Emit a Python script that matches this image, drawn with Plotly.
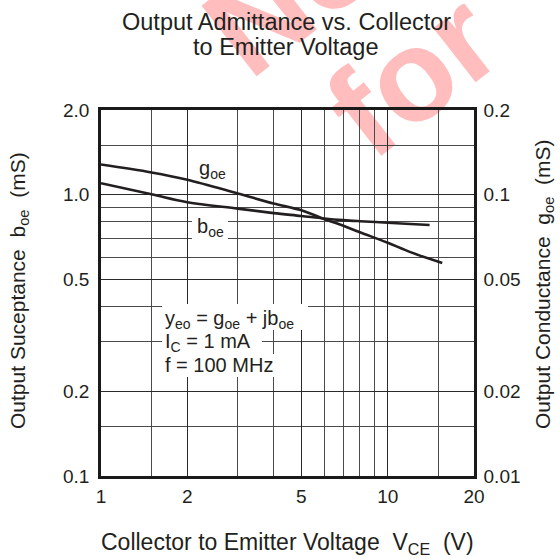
import numpy as np
import plotly.graph_objects as go

# ---- data ----
vce = [1, 1.5, 2, 3, 4, 5, 6, 7, 8, 10, 12, 14]
boe = [1.098, 1.003, 0.940, 0.892, 0.860, 0.840, 0.823, 0.812, 0.805, 0.795, 0.787, 0.780]   # mS, left axis
vce_g = [1, 1.5, 2, 3, 4, 5, 6, 7, 8, 10, 12, 15.5]
goe = [0.128, 0.120, 0.113, 0.101, 0.093, 0.088, 0.082, 0.0775, 0.0735, 0.0675, 0.0625, 0.0572]  # mS, right axis

x_ticks = [1, 2, 5, 10, 20]
x_ticktext = ["1", "2", "5", "10", "20"]
x_minor = [1.5, 3, 4, 6, 7, 8, 9, 15]
yl_ticks = [0.1, 0.2, 0.5, 1.0, 2.0]
yl_ticktext = ["0.1", "0.2", "0.5", "1.0", "2.0"]
yl_minor = [0.15, 0.3, 0.4, 0.6, 0.7, 0.8, 0.9, 1.5]
yr_ticks = [0.01, 0.02, 0.05, 0.1, 0.2]
yr_ticktext = ["0.01", "0.02", "0.05", "0.1", "0.2"]

FONT = "Liberation Sans, Arial, Helvetica, sans-serif"
TXT = "#231f20"

# plot-area geometry in pixels (for converting annotation positions)
L, R, T, B = 101, 474, 110, 476
W, H = 560, 559

def px(xp):
    return (xp - L) / (R - L)

def py(yp):
    return (B - yp) / (B - T)

fig = go.Figure()
fig.add_trace(go.Scatter(x=vce, y=boe, mode="lines", line=dict(color="#231f20", width=2.6, shape="spline"),
                         name="boe", yaxis="y"))
fig.add_trace(go.Scatter(x=vce_g, y=goe, mode="lines", line=dict(color="#231f20", width=2.6, shape="spline"),
                         name="goe", yaxis="y2"))

fig.update_layout(
    width=W, height=H,
    margin=dict(l=L, r=W - R, t=T, b=H - B),
    paper_bgcolor="white", plot_bgcolor="rgba(0,0,0,0)",
    showlegend=False,
    font=dict(family=FONT, color=TXT, size=19),
    xaxis=dict(type="log", range=[0, np.log10(20)], tickvals=x_ticks, ticktext=x_ticktext,
               showgrid=True, gridcolor="#2a2a2a", gridwidth=1,
               minor=dict(tickvals=x_minor, showgrid=True, gridcolor="#4a4a4a", gridwidth=1, ticks=""),
               showline=True, linecolor="#1a1a1a", linewidth=2.5, mirror=True, ticks="",
               tickfont=dict(size=19), ticklabelstandoff=1, zeroline=False),
    yaxis=dict(type="log", range=[-1, np.log10(2)], tickvals=yl_ticks, ticktext=yl_ticktext,
               showgrid=True, gridcolor="#2a2a2a", gridwidth=1,
               minor=dict(tickvals=yl_minor, showgrid=True, gridcolor="#4a4a4a", gridwidth=1, ticks=""),
               showline=True, linecolor="#1a1a1a", linewidth=2.5, mirror=True, ticks="",
               tickfont=dict(size=19), ticklabelstandoff=5, zeroline=False),
    yaxis2=dict(type="log", range=[-2, np.log10(0.2)], tickvals=yr_ticks, ticktext=yr_ticktext,
                overlaying="y", side="right", showgrid=False,
                showline=True, linecolor="#1a1a1a", linewidth=2.5, ticks="",
                tickfont=dict(size=19), ticklabelstandoff=3, zeroline=False),
)

# watermark (behind everything)
WM = "#ffbdbd"
fig.add_shape(type="rect", xref="paper", yref="paper",
              x0=px(220), x1=px(380), y0=py(50), y1=py(-110), line=dict(width=0),
              fillcolor="rgba(0,0,0,0)", layer="below",
              label=dict(text="Not", textangle=-38, textposition="middle center",
                         font=dict(size=130, color=WM, family=FONT, weight="bold")))
fig.add_shape(type="rect", xref="paper", yref="paper",
              x0=px(315), x1=px(495), y0=py(155), y1=py(-25), line=dict(width=0),
              fillcolor="rgba(0,0,0,0)", layer="below",
              label=dict(text="for", textangle=-38, textposition="middle center",
                         font=dict(size=130, color=WM, family=FONT, weight="bold")))

# white patches behind the in-plot labels (hide grid lines like the reference)
patches = [(192, 228, 214, 240),   # b_oe label
           (162, 308, 304, 330),   # line 1 of condition box
           (162, 262, 330, 354),   # line 2
           (162, 282, 354, 377)]   # line 3
for x0, x1, y0, y1 in patches:
    fig.add_shape(type="rect", xref="paper", yref="paper", x0=px(x0), x1=px(x1), y0=py(y1), y1=py(y0),
                  line=dict(width=0), fillcolor="white", layer="above")

ann = []
# title (two lines)
for txt, yy in [("Output Admittance vs. Collector", 22), ("to Emitter Voltage", 47)]:
    ann.append(dict(text=txt, xref="paper", yref="paper", x=px(286), y=py(yy),
                    xanchor="center", yanchor="middle", showarrow=False, font=dict(size=23.5, color=TXT)))
# axis titles
ann.append(dict(text="Collector to Emitter Voltage  V<sub>CE</sub>  (V)", xref="paper", yref="paper",
                x=px(287), y=py(543), xanchor="center", yanchor="middle", showarrow=False,
                font=dict(size=23, color=TXT)))
ann.append(dict(text="Output Suceptance  b<sub>oe</sub>  (mS)", xref="paper", yref="paper",
                x=px(19), y=py(291), xanchor="center", yanchor="middle", showarrow=False, textangle=-90,
                font=dict(size=21, color=TXT)))
ann.append(dict(text="Output Conductance  g<sub>oe</sub>  (mS)", xref="paper", yref="paper",
                x=px(544), y=py(285), xanchor="center", yanchor="middle", showarrow=False, textangle=-90,
                font=dict(size=21, color=TXT)))
# curve labels
ann.append(dict(text="g<sub>oe</sub>", xref="paper", yref="paper", x=px(212), y=py(169),
                xanchor="center", yanchor="middle", showarrow=False, font=dict(size=20, color=TXT)))
ann.append(dict(text="b<sub>oe</sub>", xref="paper", yref="paper", x=px(210), y=py(227),
                xanchor="center", yanchor="middle", showarrow=False, font=dict(size=20, color=TXT)))
# condition box lines
for txt, yy in [("y<sub>eo</sub> = g<sub>oe</sub> + jb<sub>oe</sub>", 319),
                ("I<sub>C</sub> = 1 mA", 342),
                ("f = 100 MHz", 365)]:
    ann.append(dict(text=txt, xref="paper", yref="paper", x=px(163), y=py(yy), xanchor="left",
                    yanchor="middle", showarrow=False, font=dict(size=20, color=TXT)))
fig.update_layout(annotations=ann)

fig.write_html("out.html")
